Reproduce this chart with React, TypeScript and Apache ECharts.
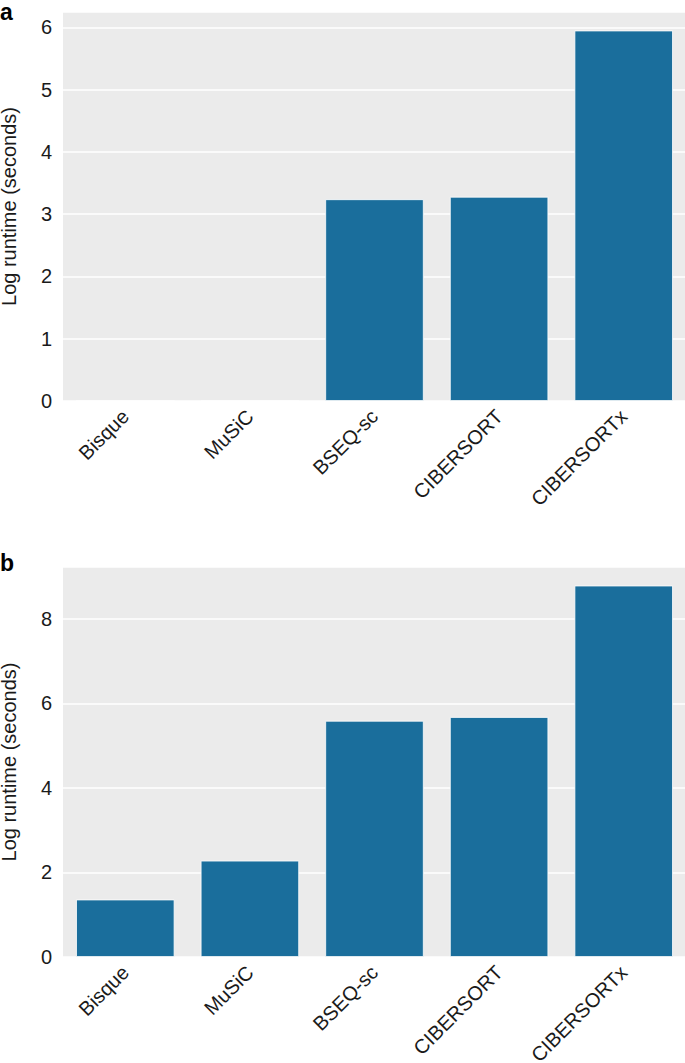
import React, { useEffect, useRef } from "react";
import * as echarts from "echarts";

const categories = ["Bisque", "MuSiC", "BSEQ-sc", "CIBERSORT", "CIBERSORTx"];
const runtimeA = [0, 0, 3.24, 3.28, 5.95];
const runtimeB = [1.36, 2.28, 5.59, 5.68, 8.79];
const panelLabels = ["a", "b"];
const yTitle = "Log runtime (seconds)";

const FONT = "'Liberation Sans', Arial, Helvetica, sans-serif";
const BAR = "#1a6e9c";
const BG = "#ebebeb";

export default function App() {
  const ref = useRef<HTMLDivElement>(null);
  useEffect(() => {
    if (!ref.current) return;
    const chart = echarts.init(ref.current, undefined, { renderer: "svg" });
    const maxA = Math.max(...runtimeA) * 1.05;
    const maxB = Math.max(...runtimeB) * 1.05;
    const grids = [
      { left: 63, top: 12, width: 623, height: 389 },
      { left: 63, top: 567, width: 623, height: 390 },
    ];
    const mkX = (i: number) => ({
      type: "category",
      gridIndex: i,
      data: categories,
      axisLine: { show: false },
      axisTick: { show: false },
      axisLabel: {
        rotate: 45,
        margin: 12,
        fontSize: 20,
        fontFamily: FONT,
        color: "#1a1a1a",
      },
    });
    const mkY = (i: number, max: number, interval: number) => ({
      type: "value",
      gridIndex: i,
      min: 0,
      max,
      interval,
      name: yTitle,
      nameLocation: "middle",
      nameGap: 44,
      nameTextStyle: { fontSize: 20, fontFamily: FONT, color: "#1a1a1a" },
      axisLine: { show: false },
      axisTick: { show: false },
      axisLabel: {
        margin: 11,
        fontSize: 20,
        fontFamily: FONT,
        color: "#1a1a1a",
        showMaxLabel: false,
        formatter: (v: number) => (Math.abs(v - Math.round(v)) < 1e-9 ? String(Math.round(v)) : ""),
      },
      splitLine: { show: true, lineStyle: { color: "#ffffff", width: 1.5 } },
    });
    const mkSeries = (i: number, data: number[]) => ({
      type: "bar",
      xAxisIndex: i,
      yAxisIndex: i,
      data,
      barWidth: "79%",
      itemStyle: { color: BAR, borderColor: "#ffffff", borderWidth: 0.8 },
      silent: true,
    });
    chart.setOption({
      animation: false,
      backgroundColor: "#ffffff",
      grid: grids.map((g) => ({
        ...g,
        show: true,
        backgroundColor: BG,
        borderWidth: 0,
        containLabel: false,
        outerBoundsMode: "none",
      })),
      xAxis: [mkX(0), mkX(1)],
      yAxis: [mkY(0, maxA, 1), mkY(1, maxB, 2)],
      series: [mkSeries(0, runtimeA), mkSeries(1, runtimeB)],
      graphic: [
        {
          type: "text",
          left: 0,
          top: 0,
          style: { text: panelLabels[0], fontSize: 23, fontWeight: "bold", fontFamily: FONT, fill: "#000" },
        },
        {
          type: "text",
          left: 0,
          top: 551,
          style: { text: panelLabels[1], fontSize: 23, fontWeight: "bold", fontFamily: FONT, fill: "#000" },
        },
      ],
    });
    return () => chart.dispose();
  }, []);
  return (
    <div
      ref={ref}
      style={{ position: "absolute", left: 0, top: 0, width: 685, height: 1063 }}
    />
  );
}
